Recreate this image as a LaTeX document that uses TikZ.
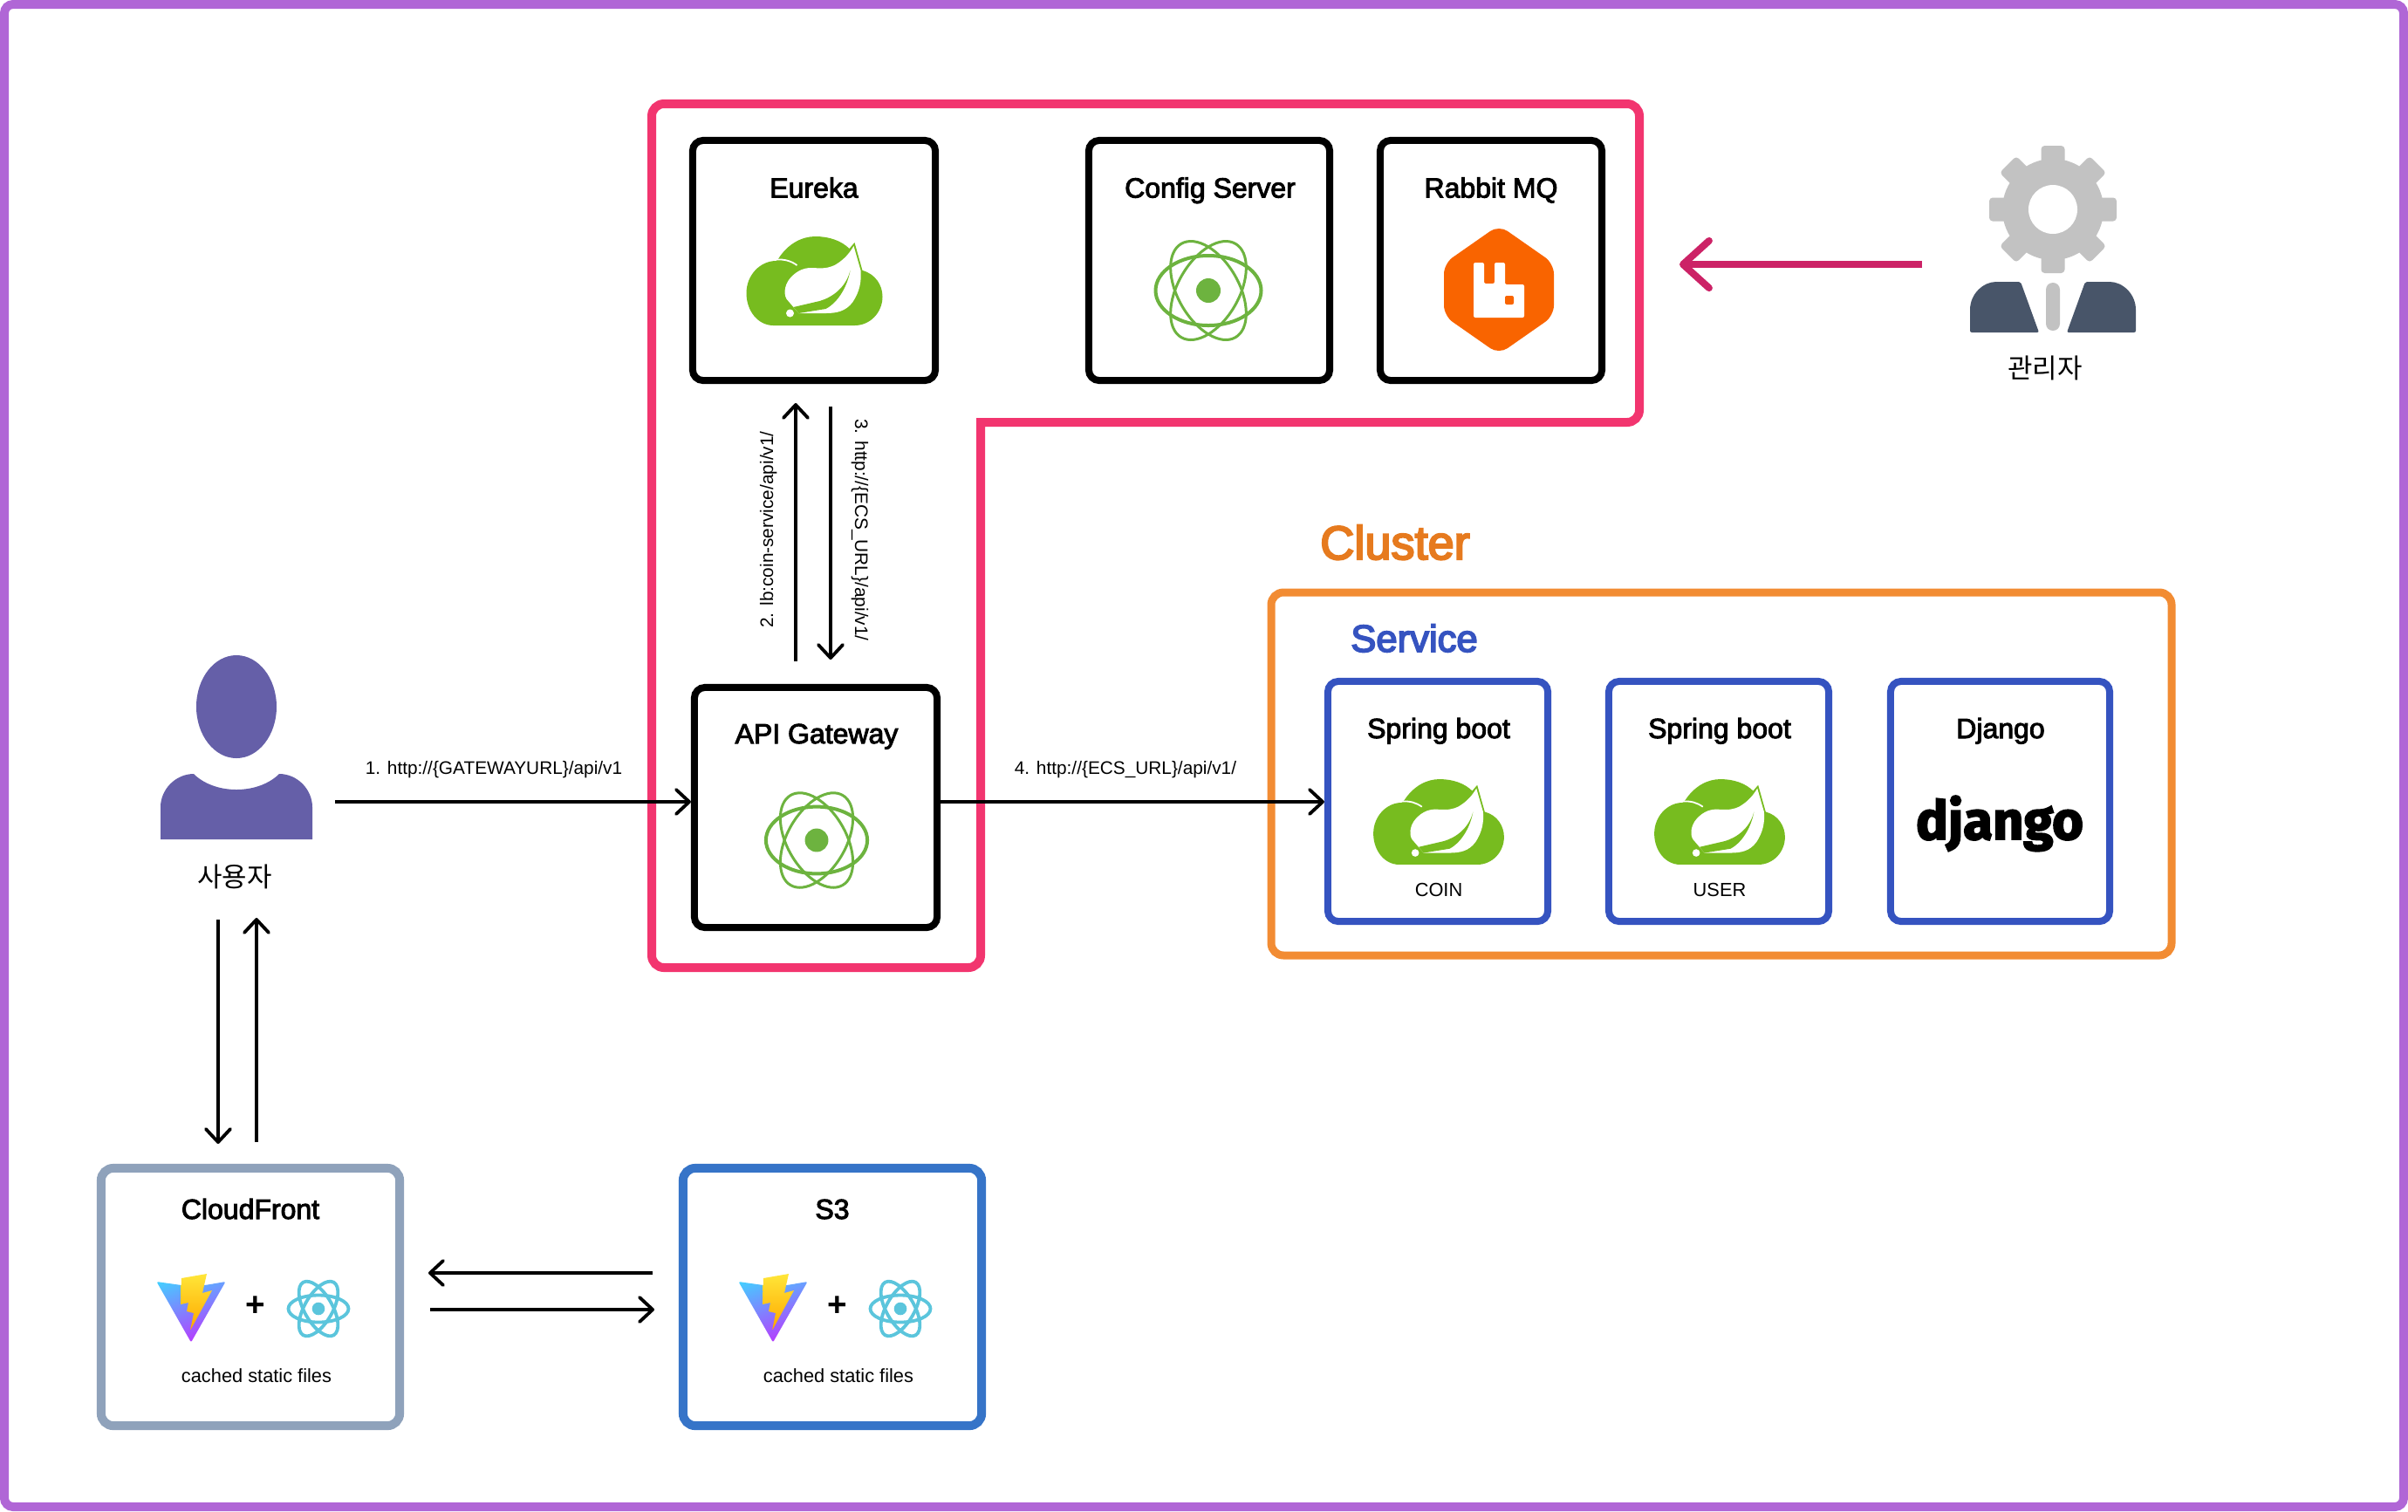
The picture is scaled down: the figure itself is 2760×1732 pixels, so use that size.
\documentclass[tikz,border=0pt]{standalone}
\usepackage{fontspec}
\setmainfont{Liberation Sans}
\newfontfamily\titlef[FakeBold=3]{Liberation Sans}
\newfontfamily\bigf[FakeBold=4]{Liberation Sans}
\newfontfamily\krf{Noto Sans CJK KR}
\newfontfamily\djf[FakeBold=3]{Fira Sans Bold}
\usetikzlibrary{arrows.meta,calc}
\newdimen\pxu \pxu=0.28453pt
\definecolor{cframe}{HTML}{B066D6}
\definecolor{cpink}{HTML}{F2356F}
\definecolor{corange}{HTML}{F28C33}
\definecolor{ctitleor}{HTML}{E67A1E}
\definecolor{cblue}{HTML}{3553C0}
\definecolor{cgreyblue}{HTML}{8FA2BB}
\definecolor{cs}{HTML}{3674C8}
\definecolor{cspring}{HTML}{77BC1F}
\definecolor{catom}{HTML}{6DB33F}
\definecolor{crabbit}{HTML}{F96400}
\definecolor{creact}{HTML}{5BC5DC}
\definecolor{cgear}{HTML}{C2C2C2}
\definecolor{csuit}{HTML}{485569}
\definecolor{cuser}{HTML}{655FA8}
\definecolor{cadmin}{HTML}{CC2266}
\definecolor{vitea}{HTML}{41D1FF}
\definecolor{viteb}{HTML}{BD34FE}
\definecolor{boltc}{HTML}{FFE83A}
\definecolor{boltd}{HTML}{FFA800}
\tikzset{
  x=0.01cm,y=-0.01cm,
  panel/.style={draw=black,line width=8\pxu,rounded corners=12\pxu,fill=white,inner sep=0pt},
  svcbox/.style={draw=cblue,line width=8\pxu,rounded corners=12\pxu,fill=white,inner sep=0pt},
  title/.style={font=\titlef\fontsize{9.1pt}{11pt}\selectfont,inner sep=0pt,anchor=base},
  small/.style={font=\fontsize{6.2pt}{8pt}\selectfont,inner sep=0pt,anchor=base},
  routelabel/.style={font=\fontsize{5.92pt}{8pt}\selectfont,inner sep=0pt,anchor=base},
  link/.style={draw=black,line width=3.8\pxu,-{Straight Barb[round,length=4.3pt,width=8pt]}},
  kr/.style={font=\krf\fontsize{8.8pt}{10pt}\selectfont,inner sep=0pt},
  plusmark/.style={font=\bfseries\fontsize{11pt}{12pt}\selectfont,inner sep=0pt},
  springicon/.pic={
    \fill[cspring] (-41,-26) .. controls (-30,-43) and (-14,-51) .. (1,-51)
      .. controls (17,-51) and (31,-46) .. (40,-37) -- (46,-44) -- (55,-12)
      .. controls (70,-8) and (78,5) .. (78,18) .. controls (78,36) and (64,51) .. (46,51)
      -- (-47,51) .. controls (-65,51) and (-78,34) .. (-78,14)
      .. controls (-78,-7) and (-62,-23) .. (-44,-23) -- cycle;
    \draw[white,line width=1.8\pxu] (-44,-24.5) .. controls (-34,-25) and (-27,-23) .. (-20,-18);
    \fill[white] (45,-40) .. controls (38,-28) and (30,-22) .. (23,-18)
      .. controls (12,-13) and (4,-15) .. (-4,-15)
      .. controls (-14,-15) and (-22,-10) .. (-28,-3)
      .. controls (-35,5) and (-36,18) .. (-30,23) -- (-24,30) -- (-18,37) -- (13,37)
      .. controls (25,37) and (36,35) .. (44,24)
      .. controls (52,12) and (54,0) .. (53,-12) -- cycle;
    \fill[cspring] (-24,30) -- (6,23) .. controls (20,19) and (36,8) .. (41,-12)
      .. controls (38,5) and (28,24) .. (13,32) -- (-18,37) -- cycle;
    \fill[white] (-28,37) circle [radius=4.5];
  },
  atomicon/.pic={
    \draw[catom,line width=4\pxu] (0,0) ellipse [x radius=60.5,y radius=40];
    \draw[catom,line width=3\pxu,rotate=60] (0,0) ellipse [x radius=62,y radius=35];
    \draw[catom,line width=3\pxu,rotate=-60] (0,0) ellipse [x radius=62,y radius=35];
    \fill[catom] (0,0) circle [radius=14];
  },
  reacticon/.pic={
    \draw[creact,line width=3.8\pxu] (0,0) ellipse [x radius=34.5,y radius=15.5];
    \draw[creact,line width=3.8\pxu,rotate=60] (0,0) ellipse [x radius=35,y radius=16];
    \draw[creact,line width=3.8\pxu,rotate=-60] (0,0) ellipse [x radius=35,y radius=16];
    \fill[creact] (0,0) circle [radius=7.3];
  },
  viteicon/.pic={
    \begin{scope}
      \clip[rounded corners=2\pxu] (-38.5,-29) -- (-10,-25) -- (17,-25) -- (40.5,-29) -- (1,40.5) -- cycle;
      \shade[top color=vitea,bottom color=viteb,shading angle=20] (-50,-38) rectangle (50,40);
    \end{scope}
    \begin{scope}
      \clip (19,-38) -- (-10,-33) -- (-11,-3) -- (-2,-5) -- (-4,5) -- (4,7) -- (0,27) -- (25,-19) -- (14,-16) -- cycle;
      \shade[top color=boltc,bottom color=boltd] (-20,-40) rectangle (26,25);
    \end{scope}
  },
  rabbiticon/.pic={
    \fill[crabbit,rounded corners=12\pxu] (0,-74) -- (63,-30) -- (63,30) -- (0,74) -- (-63,30) -- (-63,-30) -- cycle;
    \fill[white,rounded corners=2\pxu] (-29,-31) -- (-17,-31) -- (-17,-7) -- (-5,-7) -- (-5,-31) -- (7,-31) -- (7,-6) -- (29,-6) -- (29,32) -- (-29,32) -- cycle;
    \fill[crabbit,rounded corners=2\pxu] (7,7) rectangle (17,17);
  },
  gearicon/.pic={
    \foreach \a in {0,45,...,315}{
      \fill[cgear,rounded corners=4\pxu,rotate=\a] (-13.5,-73) rectangle (13.5,-45);
    }
    \fill[cgear] (0,0) circle [radius=58];
    \fill[white] (0,0) circle [radius=28];
    \fill[csuit,rounded corners=2\pxu] (-95,141) -- (-95,117) .. controls (-95,97) and (-80,83) .. (-63,83) -- (-37,83) -- (-16,141) -- cycle;
    \fill[csuit,rounded corners=2\pxu] (95,141) -- (95,117) .. controls (95,97) and (80,83) .. (63,83) -- (37,83) -- (16,141) -- cycle;
    \fill[cgear,rounded corners=7.9\pxu] (-8,84) rectangle (8,139);
  },
  usericon/.pic={
    \fill[cuser] (0,0) ellipse [x radius=46,y radius=59];
    \fill[cuser] (-87,152) -- (-87,115) .. controls (-87,95) and (-70,77) .. (-49,77)
      .. controls (-38,88) and (-20,95) .. (0,95) .. controls (20,95) and (38,88) .. (49,77)
      .. controls (70,77) and (87,95) .. (87,115) -- (87,152) -- cycle;
  },
}
\begin{document}
\begin{tikzpicture}
\useasboundingbox (0,0) rectangle (2760,1732);
\draw[cframe,line width=10\pxu,rounded corners=10\pxu] (5,5) rectangle (2755,1727);
% pink group
\draw[cpink,line width=10\pxu,rounded corners=14\pxu,fill=white,line cap=rect]
  (1124,484) -- (1879,484) -- (1879,119) -- (747,119) -- (747,1109) -- (1124,1109) -- (1124,484);
% cluster
\draw[corange,line width=9\pxu,rounded corners=14\pxu] (1457,679) rectangle (2489,1095);
\node[text=ctitleor,font=\bigf\fontsize{15.4pt}{18pt}\selectfont,inner sep=0pt,anchor=base] (clusterlabel) at (1599,641) {Cluster};
\node[text=cblue,font=\bigf\fontsize{12.4pt}{15pt}\selectfont,inner sep=0pt,anchor=base] (servicelabel) at (1621,747) {Service};
% core boxes
\node[panel,minimum width=2.78cm,minimum height=2.75cm] (eureka) at (933,298.5) {};
\node[title] (eurekat) at (933,226.5) {Eureka};
\pic at (933.5,322) {springicon};
\node[panel,minimum width=2.76cm,minimum height=2.75cm] (config) at (1386,298.5) {};
\node[title] (configt) at (1387,226.5) {Config Server};
\pic at (1385,333) {atomicon};
\node[panel,minimum width=2.54cm,minimum height=2.75cm] (rabbit) at (1709,298.5) {};
\node[title] (rabbitt) at (1709,226.5) {Rabbit MQ};
\pic at (1718,332) {rabbiticon};
\node[panel,minimum width=2.78cm,minimum height=2.75cm] (gateway) at (935,925.5) {};
\node[title] (gatewayt) at (936,852) {API Gateway};
\pic[scale=0.96] at (936,963) {atomicon};
% services
\node[svcbox,minimum width=2.52cm,minimum height=2.75cm] (coin) at (1648,918.5) {};
\node[title] (coint) at (1649,846) {Spring boot};
\pic[scale=0.96] at (1649,942) {springicon};
\node[small] (coinl) at (1649,1027) {COIN};
\node[svcbox,minimum width=2.52cm,minimum height=2.75cm] (user) at (1970,918.5) {};
\node[title] (usert) at (1971,846) {Spring boot};
\pic[scale=0.96] at (1971,942) {springicon};
\node[small] (userl) at (1971,1027) {USER};
\node[svcbox,minimum width=2.51cm,minimum height=2.75cm] (django) at (2292.5,918.5) {};
\node[title] (djangot) at (2293,846) {Django};
\node[font=\djf\fontsize{17.5pt}{22pt}\selectfont,inner sep=0pt,anchor=base] (djangologo) at (2292,962) {django};
% static hosts
\node[draw=cgreyblue,line width=10\pxu,rounded corners=14\pxu,fill=white,minimum width=3.42cm,minimum height=2.95cm,inner sep=0pt] (cloudfront) at (287,1486.5) {};
\node[title] (cloudfrontt) at (287,1397) {CloudFront};
\pic at (218,1498) {viteicon};
\node[plusmark] (plusa) at (293,1497) {+};
\pic at (365,1500) {reacticon};
\node[small] (cacheda) at (294,1584) {cached static files};
\node[draw=cs,line width=10\pxu,rounded corners=14\pxu,fill=white,minimum width=3.42cm,minimum height=2.95cm,inner sep=0pt] (sthree) at (954,1486.5) {};
\node[title] (sthreet) at (954,1397) {S3};
\pic at (885,1498) {viteicon};
\node[plusmark] (plusb) at (960,1497) {+};
\pic at (1032,1500) {reacticon};
\node[small] (cachedb) at (961,1584) {cached static files};
% people
\pic at (271,810) {usericon};
\node[kr] (userlabel) at (269,1005) {사용자};
\pic at (2353,240) {gearicon};
\node[kr] (adminlabel) at (2344,422) {관리자};
% connector ends
\coordinate (ustart) at (384,919);
\coordinate (gstart) at (1074,919);
\coordinate (upa) at (912,758);
\coordinate (upb) at (912,462);
\coordinate (dna) at (952,466);
\coordinate (dnb) at (952,756);
\coordinate (cfda) at (250,1054);
\coordinate (cfdb) at (250,1311);
\coordinate (cfua) at (294,1309);
\coordinate (cfub) at (294,1052);
\coordinate (sla) at (748,1459);
\coordinate (slb) at (491,1459);
\coordinate (sra) at (493,1501);
\coordinate (srb) at (750,1501);
\coordinate (ada) at (2203,303);
\coordinate (adb) at (1925,303);
% connectors
\draw[link] (ustart) -- (ustart -| gateway.west);
\draw[link] (gstart) -- (gstart -| coin.west);
\draw[link] (upa) -- (upb);
\draw[link] (dna) -- (dnb);
\draw[link] (cfda) -- (cfdb);
\draw[link] (cfua) -- (cfub);
\draw[link] (sla) -- (slb);
\draw[link] (sra) -- (srb);
\draw[draw=cadmin,line width=8\pxu,-{Straight Barb[round,length=8.5pt,width=15.4pt]}] (ada) -- (adb);
% labels
\node[routelabel] (la) at (566,887) {1. http://\{GATEWAYURL\}/api/v1};
\node[routelabel] (ld) at (1290,887) {4. http://\{ECS\_URL\}/api/v1/};
\node[routelabel,rotate=90] (lb) at (886,607) {2. lb:coin-service/api/v1/};
\node[routelabel,rotate=-90] (lc) at (980,607.5) {3. http://\{ECS\_URL\}/api/v1/};
\end{tikzpicture}
\end{document}
